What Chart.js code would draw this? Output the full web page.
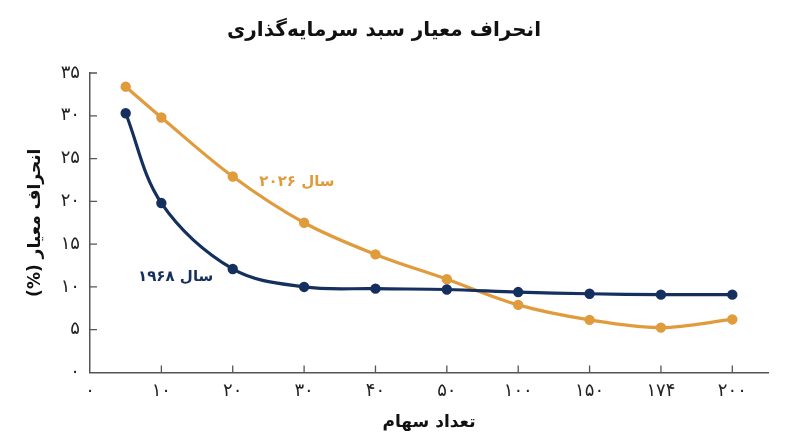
<!DOCTYPE html>
<html lang="fa">
<head>
<meta charset="utf-8">
<script src="https://cdn.jsdelivr.net/npm/chart.js@4.4.1/dist/chart.umd.min.js"></script>
<style>
  html, body { margin: 0; padding: 0; background: #fff; }
  #wrap { width: 800px; height: 447px; }
  canvas { direction: rtl; }
</style>
</head>
<body>
<div id="wrap"><canvas id="chart"></canvas></div>
<script>
// number of stocks in the portfolio
const stocks = [5, 10, 20, 30, 40, 50, 100, 150, 174, 200];
// standard deviation (%) for each year
const sd1968 = [30.3, 19.8, 12.1, 10.0, 9.8, 9.7, 9.4, 9.2, 9.1, 9.1];
const sd2026 = [33.4, 29.8, 22.9, 17.5, 13.8, 10.9, 7.9, 6.15, 5.25, 6.2];
// x axis is uneven: ticks at these stock counts, equally spaced
const xTickValues = [0, 10, 20, 30, 40, 50, 100, 150, 174, 200];
const yTickValues = [0, 5, 10, 15, 20, 25, 30, 35];

const seriesNames = ['سال ۱۹۶۸', 'سال ۲۰۲۶'];
const BLUE = '#152f5f';
const ORANGE = '#e09b3d';
const FONT = '"DejaVu Sans", sans-serif';

function fa(n) {
    return String(n).replace(/\d/g, d => '۰۱۲۳۴۵۶۷۸۹'[d]);
}

// map a stock count onto the evenly spaced tick index axis
function toAxis(s) {
    for (let i = 0; i < xTickValues.length - 1; i++) {
        if (s <= xTickValues[i + 1]) {
            return i + (s - xTickValues[i]) / (xTickValues[i + 1] - xTickValues[i]);
        }
    }
    return xTickValues.length - 1;
}

function points(values) {
    return stocks.map((s, i) => ({ x: toAxis(s), y: values[i] }));
}

// short tick marks pointing into the plot, plus the series names
const extrasPlugin = {
    id: 'extras',
    afterDraw(chart) {
        const ctx = chart.ctx;
        const { x, y } = chart.scales;
        const area = chart.chartArea;
        ctx.save();
        ctx.strokeStyle = '#555';
        ctx.lineWidth = 1.3;
        ctx.beginPath();
        x.ticks.forEach(t => {
            if (t.value === 0) return;
            const px = x.getPixelForValue(t.value);
            ctx.moveTo(px, area.bottom);
            ctx.lineTo(px, area.bottom - 7);
        });
        y.ticks.forEach(t => {
            if (t.value === 0) return;
            const py = y.getPixelForValue(t.value);
            ctx.moveTo(area.left, py);
            ctx.lineTo(area.left + 7, py);
        });
        ctx.stroke();

        ctx.font = 'bold 15px ' + FONT;
        ctx.textAlign = 'center';
        ctx.textBaseline = 'middle';
        ctx.direction = 'rtl';
        ctx.fillStyle = BLUE;
        ctx.fillText(seriesNames[0], x.getPixelForValue(1.2), y.getPixelForValue(11.2));
        ctx.fillStyle = ORANGE;
        ctx.fillText(seriesNames[1], x.getPixelForValue(2.9), y.getPixelForValue(22.3));
        ctx.restore();
    }
};

const ctx = document.getElementById('chart').getContext('2d');
new Chart(ctx, {
    type: 'line',
    data: {
        datasets: [{
            label: seriesNames[0],
            data: points(sd1968),
            borderColor: BLUE,
            backgroundColor: BLUE,
            borderWidth: 3.2,
            pointRadius: 3.6,
            pointHoverRadius: 3.6,
            tension: 0.35
        }, {
            label: seriesNames[1],
            data: points(sd2026),
            borderColor: ORANGE,
            backgroundColor: ORANGE,
            borderWidth: 3.2,
            pointRadius: 3.6,
            pointHoverRadius: 3.6,
            tension: 0.35
        }]
    },
    options: {
        responsive: true,
        maintainAspectRatio: false,
        animation: false,
        layout: { padding: { left: 0, right: 32, top: 0, bottom: 0 } },
        scales: {
            x: {
                type: 'linear',
                min: 0,
                max: 9.5,
                afterBuildTicks: s => { s.ticks = xTickValues.map((v, i) => ({ value: i })); },
                afterFit: s => { s.height = 74.5; },
                ticks: {
                    padding: 8,
                    color: '#222',
                    font: { family: FONT, size: 18 },
                    maxRotation: 0,
                    autoSkip: false,
                    callback: v => fa(xTickValues[v])
                },
                grid: { drawOnChartArea: false, drawTicks: false },
                border: { display: true, color: '#555', width: 1.5 },
                title: {
                    display: true,
                    text: 'تعداد سهام',
                    color: '#111',
                    font: { family: FONT, size: 17, weight: 'bold' },
                    padding: { top: 4, bottom: 14 }
                }
            },
            y: {
                min: 0,
                max: 35,
                afterBuildTicks: s => { s.ticks = yTickValues.map(v => ({ value: v })); },
                afterFit: s => { s.width = 90; },
                ticks: {
                    padding: 10,
                    color: '#222',
                    font: { family: FONT, size: 18 },
                    callback: v => fa(v)
                },
                grid: { drawOnChartArea: false, drawTicks: false },
                border: { display: true, color: '#555', width: 1.5 },
                title: {
                    display: true,
                    text: 'انحراف معیار (%)',
                    color: '#111',
                    font: { family: FONT, size: 17, weight: 'bold' },
                    padding: { top: 25, bottom: 0 }
                }
            }
        },
        plugins: {
            legend: { display: false },
            tooltip: { enabled: false },
            title: {
                display: true,
                text: 'انحراف معیار سبد سرمایه‌گذاری',
                color: '#111',
                font: { family: FONT, size: 20, weight: 'bold' },
                padding: { top: 19, bottom: 30 }
            }
        }
    },
    plugins: [extrasPlugin]
});
</script>
</body>
</html>
